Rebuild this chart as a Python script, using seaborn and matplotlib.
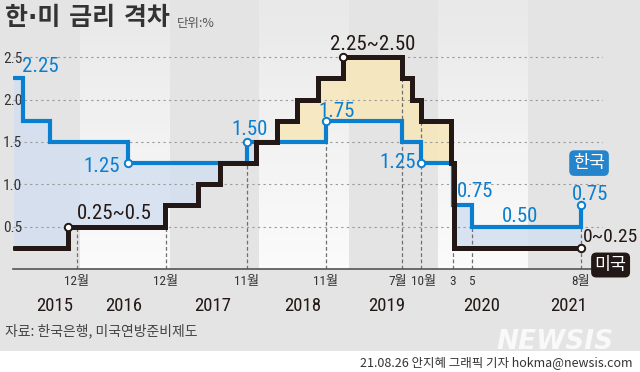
import matplotlib
matplotlib.use("Agg")
import matplotlib.pyplot as plt
import matplotlib.dates as mdates
from matplotlib.colors import LinearSegmentedColormap
from matplotlib.patches import Rectangle
import numpy as np
import pandas as pd
import seaborn as sns

# 한국 기준금리 (변경 시점, %)
kr_dates = ["2015-04-06", "2015-05-12", "2015-08-30", "2016-07-14", "2017-11-13",
            "2018-10-01", "2019-08-08", "2019-10-24", "2020-03-03", "2020-05-20",
            "2021-08-08"]
kr_rates = [2.25, 1.75, 1.50, 1.25, 1.50, 1.75, 1.50, 1.25, 0.75, 0.50, 0.75]

# 미국 기준금리 상단 (변경 시점, %)
us_dates = ["2015-04-06", "2015-11-12", "2016-12-13", "2017-04-27", "2017-07-26",
            "2017-12-19", "2018-03-15", "2018-06-05", "2018-08-30", "2018-12-09",
            "2019-08-08", "2019-09-18", "2019-10-24", "2020-02-24", "2020-03-07",
            "2021-08-08"]
us_rates = [0.25, 0.50, 0.75, 1.00, 1.25, 1.50, 1.75, 2.00, 2.25, 2.50,
            2.25, 2.00, 1.75, 1.25, 0.25, 0.25]

kr_mark_dates = ["2016-07-14", "2017-11-13", "2018-10-01", "2019-10-24", "2021-08-08"]
kr_mark_rates = [1.25, 1.50, 1.75, 1.25, 0.75]
us_mark_dates = ["2015-11-12", "2018-12-09", "2021-08-08"]
us_mark_rates = [0.50, 2.50, 0.25]

tick_dates = ["2015-12-18", "2016-12-17", "2017-11-13", "2018-10-01", "2019-08-08",
              "2019-10-24", "2020-03-03", "2020-05-20", "2021-08-08"]
tick_labels = ["12월", "12월", "11월", "11월", "7월", "10월", "3", "5", "8월"]
guide_tops = [0.50, 0.50, 1.25, 1.50, 2.25, 1.75, 0.25, 0.50, 0.75]
tick_nudge = [0, 0, 0, 0, -4, 3, 0, 0, 0]  # px, keeps 7월/10월 apart

years = ["2015", "2016", "2017", "2018", "2019", "2020", "2021"]
year_label_dates = ["2015-09-20", "2016-06-28", "2017-06-27", "2018-06-28",
                    "2019-06-08", "2020-07-01", "2021-06-21"]
light_years = [2016, 2018, 2020]

y_ticks = [0.5, 1.0, 1.5, 2.0, 2.5]
y_tick_labels = ["0.5", "1.0", "1.5", "2.0", "2.5"]

kr_labels = ["2.25", "1.25", "1.50", "1.75", "1.25", "0.75", "0.50", "0.75"]
kr_label_pos = [("2015-05-08", 2.32, "left"), ("2016-06-12", 1.144, "right"),
                ("2017-11-22", 1.58, "center"), ("2018-11-16", 1.79, "center"),
                ("2019-10-04", 1.19, "right"), ("2020-06-01", 0.85, "center"),
                ("2020-12-03", 0.554, "center"), ("2021-09-15", 0.81, "center")]
us_labels = ["0.25~0.5", "2.25~2.50", "0~0.25"]
us_label_pos = [("2016-05-19", 0.59, "center", 15), ("2019-04-11", 2.58, "center", 15),
                ("2021-08-15", 0.318, "left", 14)]

BLUE = "#0b7fcf"
BLACK = "#231815"
CJK = ["Noto Sans CJK KR", "DejaVu Sans"]

sns.set_style("white")
plt.rcParams["font.family"] = ["Roboto Condensed", "Noto Sans CJK KR", "DejaVu Sans"]

fig = plt.figure(figsize=(6.4, 3.72), dpi=100)
fig.patch.set_facecolor("#e4e4e4")
fig.add_artist(Rectangle((0, 0), 1, 21 / 372, transform=fig.transFigure,
                         facecolor="white", edgecolor="none", zorder=-1))
ax = fig.add_axes([13 / 640, 103 / 372, 590 / 640, 233 / 372])
ax.set_facecolor("none")

kr = pd.Series(kr_rates, index=pd.to_datetime(kr_dates))
us = pd.Series(us_rates, index=pd.to_datetime(us_dates))
idx = kr.index.union(us.index)
both = pd.DataFrame({"kr": kr.reindex(idx).ffill(), "us": us.reindex(idx).ffill()})
low = np.minimum(both.kr, both.us)

ax.fill_between(both.index, low, both.kr, step="post", color="#d3dff0", alpha=0.85,
                linewidth=0, zorder=1)
ax.fill_between(both.index, low, both.us, step="post", color="#f6e8bd", alpha=0.9,
                linewidth=0, zorder=1)

sns.lineplot(x=kr.index, y=kr.values, drawstyle="steps-post", color=BLUE,
             linewidth=3.0, solid_joinstyle="miter", ax=ax, zorder=3)
sns.lineplot(x=us.index, y=us.values, drawstyle="steps-post", color=BLACK,
             linewidth=3.6, solid_joinstyle="miter", ax=ax, zorder=4)

ax.vlines(pd.to_datetime(tick_dates), 0, guide_tops, colors="#707070",
          linestyles=(0, (3, 2)), linewidth=0.9, zorder=2)

sns.scatterplot(x=pd.to_datetime(kr_mark_dates), y=kr_mark_rates, s=28, color="white",
                edgecolor=BLUE, linewidth=1.4, zorder=6, ax=ax)
sns.scatterplot(x=pd.to_datetime(us_mark_dates), y=us_mark_rates, s=28, color="white",
                edgecolor=BLACK, linewidth=1.4, zorder=6, ax=ax)

# year bands
cmap = LinearSegmentedColormap.from_list("band", ["#e9e9e9", "#fbfbfb"])
grad = np.linspace(0, 1, 64).reshape(-1, 1)
for yr in light_years:
    x0 = mdates.date2num(pd.Timestamp(f"{yr}-01-01"))
    x1 = mdates.date2num(pd.Timestamp(f"{yr + 1}-01-01"))
    im = ax.imshow(grad, cmap=cmap, aspect="auto", origin="upper",
                   extent=[x0, x1, 0, 269 / 84.8], zorder=0)
    im.set_clip_on(False)

for txt, (d, y, ha) in zip(kr_labels, kr_label_pos):
    ax.text(pd.Timestamp(d), y, txt, color=BLUE, fontsize=15, ha=ha, va="baseline", zorder=7)
for txt, (d, y, ha, fs) in zip(us_labels, us_label_pos):
    ax.text(pd.Timestamp(d), y, txt, color=BLACK, fontsize=fs, ha=ha, va="baseline", zorder=7)

ax.text(pd.Timestamp("2021-09-11"), 1.25, "한국", color="white", fontsize=12.5,
        family=CJK, ha="center", va="center", zorder=8,
        bbox=dict(boxstyle="round,pad=0.22,rounding_size=0.3", fc="#2585cc", ec="none"))
ax.text(pd.Timestamp("2021-12-08"), 0.047, "미국", color="white", fontsize=12.5,
        family=CJK, ha="center", va="center", zorder=8,
        bbox=dict(boxstyle="round,pad=0.2,rounding_size=0.3", fc=BLACK, ec="none"))

# month labels under the axis
ax.set_xticks(mdates.date2num(pd.to_datetime(tick_dates)))
ax.set_xticklabels([])
for d, lab, dx in zip(tick_dates, tick_labels, tick_nudge):
    ax.annotate(lab, (pd.Timestamp(d), 0), xytext=(dx, -6), textcoords="offset pixels",
                ha="center", va="top", fontsize=9.5, color="#333333", annotation_clip=False)

for yr, d in zip(years, year_label_dates):
    ax.text(pd.Timestamp(d), -0.436, yr, color=BLACK, fontsize=13.5, ha="center", va="center")

ax.set_yticks(y_ticks)
ax.set_yticklabels(y_tick_labels, fontsize=11, color="#333333")
for lab in ax.get_yticklabels():
    lab.set_horizontalalignment("left")
ax.tick_params(axis="y", length=0, pad=7.2)
ax.tick_params(axis="x", length=0)

ax.set_axisbelow("line")
ax.grid(axis="y", linestyle=(0, (2, 3)), color="#9a9a9a", linewidth=0.8)
ax.grid(axis="x", visible=False)
sns.despine(ax=ax, left=True)
ax.spines["bottom"].set_color("#555555")
ax.spines["bottom"].set_linewidth(1.2)
ax.set_xlabel("")
ax.set_ylabel("")
ax.set_xlim(pd.Timestamp("2015-04-02"), pd.Timestamp("2021-11-07"))
ax.set_ylim(0, 2.75)

fig.text(5 / 640, 1 - 18 / 372, "한·미 금리 격차", family=["DejaVu Sans", "Noto Sans CJK KR"],
         fontsize=18, weight="bold", color="#333333", va="center")
fig.text(177 / 640, 1 - 23 / 372, "단위:%", family=CJK, fontsize=9, color="#555555",
         va="center")
fig.text(5 / 640, 1 - 331 / 372, "자료: 한국은행, 미국연방준비제도", family=CJK,
         fontsize=10, color="#444444", va="center")
fig.text(555 / 640, 1 - 342 / 372, "NEWSIS", family="DejaVu Sans", fontsize=19,
         weight="heavy", style="italic", color="white", alpha=0.8, ha="center", va="center")
fig.text(632 / 640, 1 - 363 / 372, "21.08.26 안지혜 그래픽 기자 hokma@newsis.com",
         family=CJK, fontsize=9, color="#333333", ha="right", va="center")

fig.savefig("out.png", dpi=100, facecolor=fig.get_facecolor())
